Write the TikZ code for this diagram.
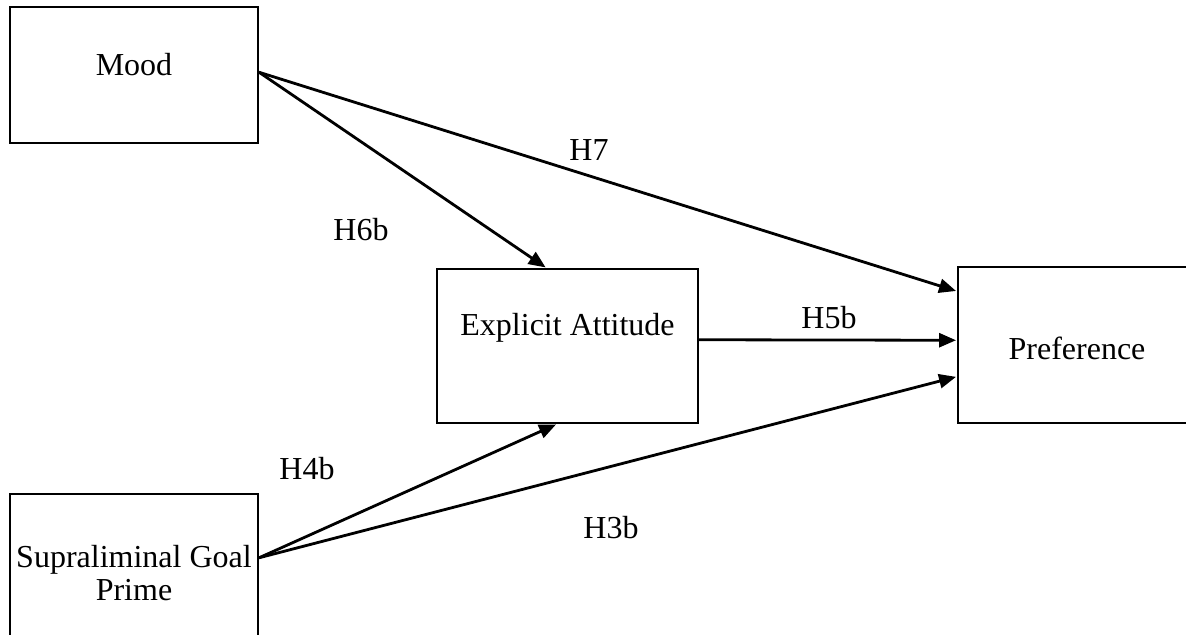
\documentclass[tikz,border=0pt]{standalone}
\usepackage{fontspec}
\setmainfont{Liberation Serif}
\usetikzlibrary{arrows.meta,calc}
\begin{document}
\begin{tikzpicture}[x=0.5pt,y=-0.5pt,
  box/.style={draw=black,line width=1pt,rectangle,inner sep=0pt},
  txt/.style={font=\fontsize{16}{16.5}\selectfont,align=center,inner sep=0pt},
  path/.style={line width=1.4pt,-{Triangle[length=8.5pt,width=7pt]},shorten >=0.5pt},
  hyp/.style={font=\fontsize{16}{16.5}\selectfont,inner sep=0pt}]
  \useasboundingbox (0,0) rectangle (1186,635);
  \clip (0,0) rectangle (1186,635);
  % constructs
  \node[box,minimum width=124pt,minimum height=68pt] (mood) at (134,75) {};
  \node[txt] (moodtxt) at (134,65) {Mood};
  \node[box,minimum width=130.5pt,minimum height=77pt] (ea) at (567.5,346) {};
  \node[txt] (eatxt) at (567.5,328) {Explicit Attitude};
  \node[box,minimum width=119pt,minimum height=78pt] (pref) at (1077,345) {};
  \node[txt] (preftxt) at (1077,348) {Preference};
  \node[box,minimum width=124pt,minimum height=80pt] (sgp) at (134,574) {};
  \node[txt] (sgptxt) at (134,573) {Supraliminal Goal\\Prime};
  % anchor points on the box sides
  \coordinate (m1) at ($(mood.north east)!0.48!(mood.south east)$);
  \coordinate (s1) at ($(sgp.north east)!0.40!(sgp.south east)$);
  \coordinate (eaT) at ($(ea.north west)!0.42!(ea.north east)$);
  \coordinate (eaB) at ($(ea.south west)!0.46!(ea.south east)$);
  \coordinate (eaR) at ($(ea.north east)!0.46!(ea.south east)$);
  \coordinate (p1) at ($(pref.north west)!0.16!(pref.south west)$);
  \coordinate (p2) at ($(pref.north west)!0.47!(pref.south west)$);
  \coordinate (p3) at ($(pref.north west)!0.70!(pref.south west)$);
  % paths
  \draw[path] (m1) -- (eaT);
  \draw[path] (m1) -- (p1);
  \draw[path] (eaR) -- (p2);
  \draw[path] (s1) -- (eaB);
  \draw[path] (s1) -- (p3);
  % hypothesis labels
  \node[hyp] (h7) at (589,150) {H7};
  \node[hyp] (h6b) at (361,230) {H6b};
  \node[hyp] (h5b) at (829,318) {H5b};
  \node[hyp] (h4b) at (307,469) {H4b};
  \node[hyp] (h3b) at (611,528) {H3b};
\end{tikzpicture}
\end{document}
